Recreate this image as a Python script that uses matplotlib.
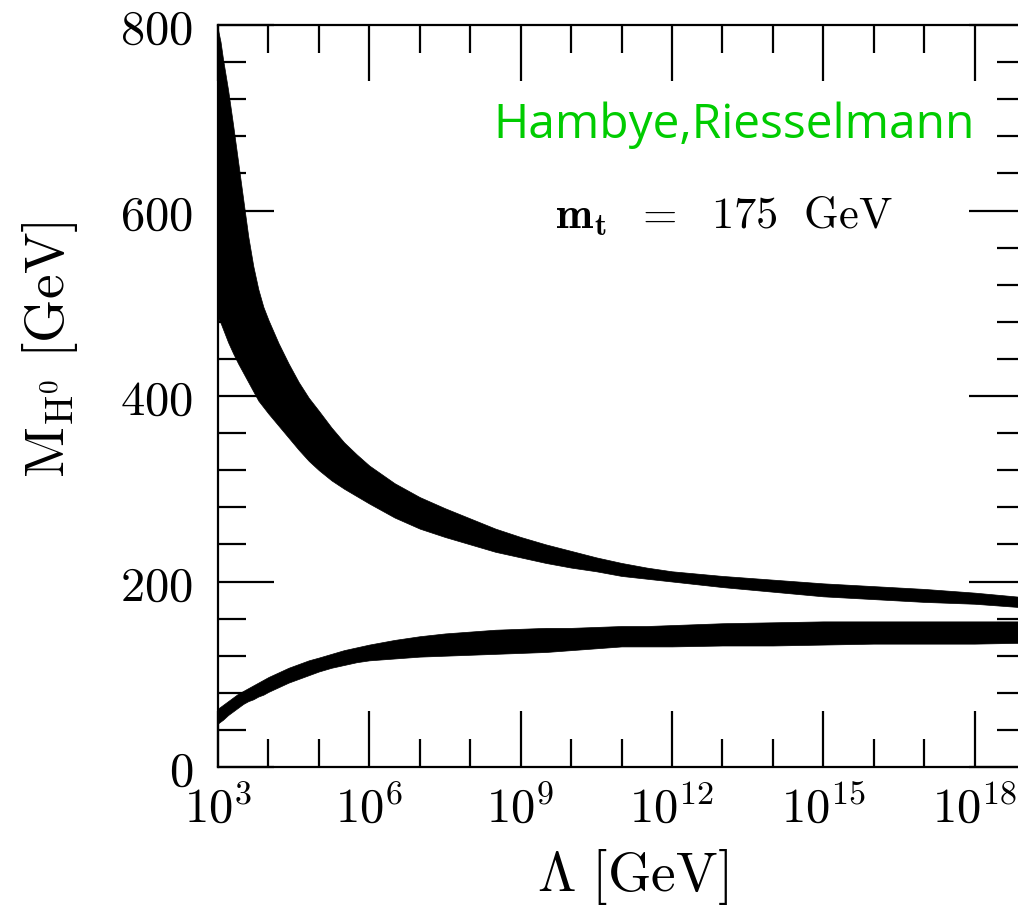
"""Higgs mass bounds vs cutoff scale (triviality + vacuum stability bands)."""

import matplotlib
matplotlib.use("Agg")
import matplotlib.pyplot as plt
from matplotlib.ticker import FixedLocator, FuncFormatter, NullFormatter
import numpy as np

plt.rcParams["mathtext.fontset"] = "cm"

# log10(Lambda / GeV) sample points for both bands
log_lambda = [3.0, 3.05, 3.1, 3.2, 3.3, 3.4, 3.5, 3.6, 3.7, 3.8, 3.9, 4.0,
              4.2, 4.4, 4.6, 4.8, 5.0, 5.25, 5.5, 5.75, 6.0, 6.5, 7.0, 7.5,
              8.0, 8.5, 9.0, 9.5, 10.0, 10.5, 11.0, 11.5, 12.0, 13.0, 14.0,
              15.0, 16.0, 17.0, 18.0, 19.0]

# upper (triviality) band, M_H in GeV
triv_top = [795, 782, 763, 730, 692, 652, 612, 572, 540, 515, 496, 482,
            457, 435, 415, 398, 384, 366, 350, 337, 325, 306, 291, 279,
            268, 257, 248, 240, 233, 226, 220, 215, 211, 206, 202,
            198, 195, 192, 188, 183]
triv_bot = [484, 479, 472, 458, 446, 435, 425, 415, 405, 395, 388, 381,
            368, 355, 342, 330, 320, 309, 300, 292, 284, 269, 257, 248,
            240, 232, 226, 220, 215, 211, 206, 203, 200, 194, 189,
            184, 181, 178, 176, 172]

# lower (vacuum stability) band
stab_top = [63, 65, 67, 71, 75, 79, 82, 85, 88, 91, 94, 97,
            102, 107, 111, 115, 118, 122, 126, 129, 132, 137, 141, 144,
            146, 148, 149, 150, 150, 151, 152, 152, 153, 155, 156,
            157, 157, 157, 157, 157]
stab_bot = [47, 49, 51, 56, 60, 64, 68, 71, 73, 76, 78, 81,
            86, 91, 95, 99, 103, 107, 110, 113, 115, 117, 119, 120,
            121, 122, 123, 124, 126, 128, 130, 130, 130, 131, 131,
            132, 133, 133, 133, 134]

x_major_exp = [3, 6, 9, 12, 15, 18]
y_major = [0, 200, 400, 600, 800]

W, H = 1018, 906
fig = plt.figure(figsize=(W / 100, H / 100), dpi=100)
ax = fig.add_axes([218 / W, (H - 767) / H, (1025 - 218) / W, (767 - 25) / H])

lam = 10.0 ** np.array(log_lambda)
ax.fill_between(lam, triv_bot, triv_top, color="black", lw=0.5)
ax.fill_between(lam, stab_bot, stab_top, color="black", lw=0.5)

ax.set_xscale("log")
ax.set_xlim(1e3, 1e19)
ax.set_ylim(0, 800)

ax.xaxis.set_major_locator(FixedLocator([10.0 ** e for e in x_major_exp]))
ax.xaxis.set_minor_locator(FixedLocator([10.0 ** e for e in range(3, 20) if e not in x_major_exp]))
ax.xaxis.set_major_formatter(FuncFormatter(lambda v, p: r"$10^{%d}$" % round(np.log10(v))))
ax.xaxis.set_minor_formatter(NullFormatter())
ax.yaxis.set_major_locator(FixedLocator(y_major))
ax.yaxis.set_minor_locator(FixedLocator(list(range(0, 801, 40))))
ax.yaxis.set_major_formatter(FuncFormatter(lambda v, p: r"$%d$" % v))

ax.tick_params(which="both", direction="in", top=True, right=True, width=1.6, colors="black")
ax.tick_params(which="major", length=40)
ax.tick_params(which="minor", length=20)
ax.tick_params(axis="x", which="major", labelsize=35, pad=13)
ax.tick_params(axis="y", which="major", labelsize=35, pad=18)
for s in ax.spines.values():
    s.set_linewidth(1.6)

fig.text(50 / W, 1 - 350 / H, r"$\mathrm{M_{H^0}\ [GeV]}$", rotation=90,
         ha="center", va="center", fontsize=40)
fig.text(632 / W, 1 - 877 / H, r"$\Lambda\ \mathrm{[GeV]}$",
         ha="center", va="center", fontsize=40)

fig.text(555 / W, 1 - 228 / H, r"$\mathbf{m_t}\ \ =\ \ \mathrm{175\ \ GeV}$",
         ha="left", va="baseline", fontsize=32)
fig.text(493 / W, 1 - 138 / H, "Hambye,Riesselmann", color="#00cc00",
         family="Open Sans", ha="left", va="baseline", fontsize=34.5)

fig.savefig("out.png", dpi=100)
